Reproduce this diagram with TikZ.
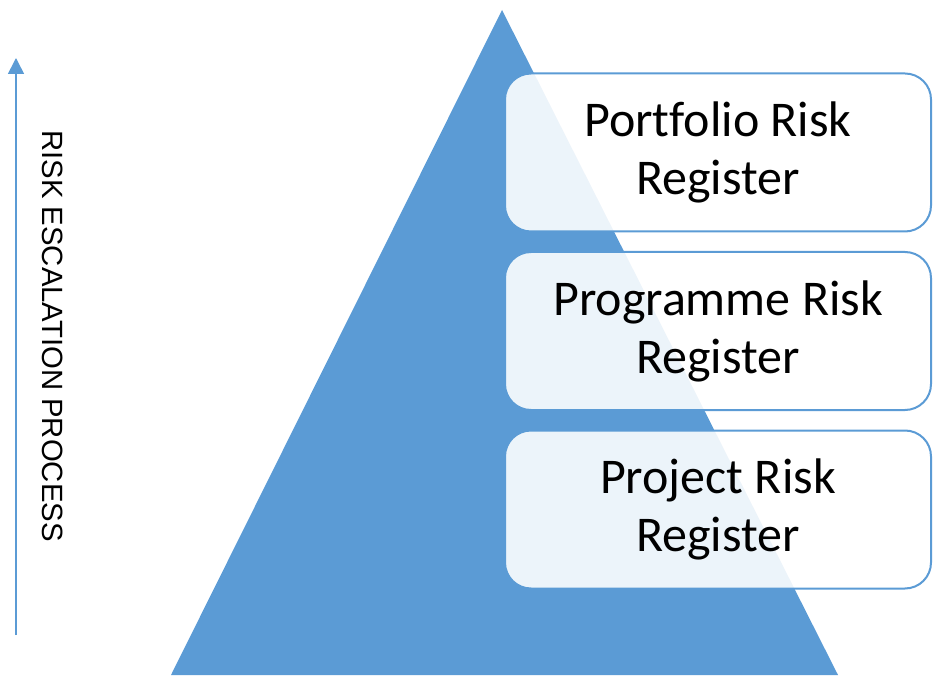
\documentclass[tikz,border=0pt]{standalone}
\usepackage{fontspec}
\setmainfont{Carlito}[Ligatures=NoCommon]
\newfontfamily\arialfont{Liberation Sans}
\usepackage{tikz}
\usetikzlibrary{arrows.meta, positioning, calc}
\definecolor{pyramid}{RGB}{91, 155, 213}
\tikzset{
    register/.style={rectangle, rounded corners=26pt, minimum width=426pt, minimum height=158pt, align=center, draw=pyramid, line width=2pt, fill=white, fill opacity=0.89, text opacity=1, font=\fontsize{50}{58}\selectfont},
    escalation/.style={line width=1.6pt, pyramid, -{Triangle[length=16pt, width=16pt]}},
    sidelabel/.style={rotate=-90, font=\arialfont\fontsize{29.3}{33}\selectfont}
}
\begin{document}
\begin{tikzpicture}[x=1pt, y=1pt]
    \useasboundingbox (0,0) rectangle (933,675);
    % pyramid
    \fill[pyramid] (171,0) -- (502,665) -- (838,0) -- cycle;
    % registers
    \node[register] (portfolio) at (718,522.5) {Portfolio Risk\\Register};
    \node[register] (programme) at (718,344) {Programme Risk\\Register};
    \node[register] (project) at (718,165.5) {Project Risk\\Register};
    % escalation arrow
    \coordinate (low) at (16,40);
    \coordinate (high) at (16,617);
    \draw[escalation] (low) -- (high);
    \node[sidelabel] (process) at (53,339) {RISK ESCALATION PROCESS};
\end{tikzpicture}
\end{document}
